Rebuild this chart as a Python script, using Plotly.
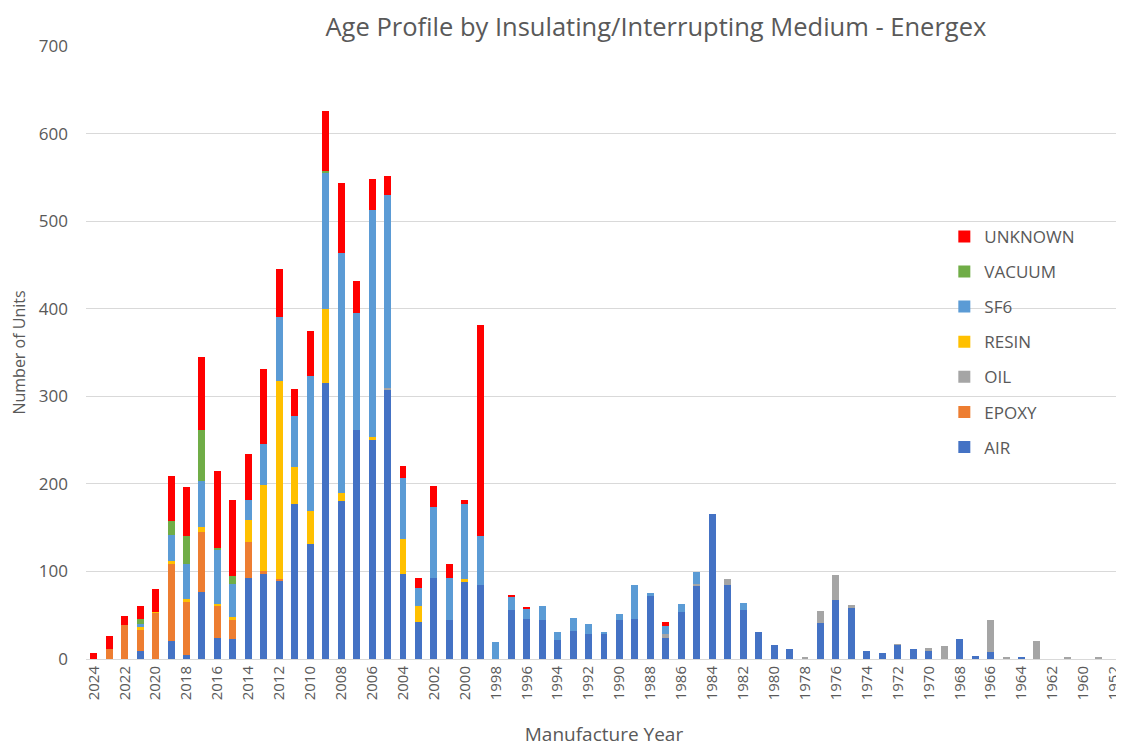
import plotly.graph_objects as go

years = [str(y) for y in range(2024, 1959, -1)] + ["1957", "1952"]

AIR = [0, 0, 0, 9, 0, 21, 5, 76, 24, 23, 92, 98, 90, 177, 131, 315, 180, 262, 251, 308,
       97, 42, 92, 45, 89, 85, 0, 56, 46, 44, 22, 32, 28, 29, 44, 46, 73, 24, 54, 84,
       166, 84, 56, 31, 16, 11, 0, 41, 67, 58, 9, 7, 16, 11, 9, 0, 23, 3, 8, 0,
       2, 0, 0, 0, 0, 0, 0]
EPOXY = [0, 11, 39, 25, 53, 87, 61, 69, 36, 22, 42, 2, 1, 0, 0, 0, 0, 0, 0, 0,
         0, 0, 0, 0, 0, 0, 0, 0, 0, 0, 0, 0, 0, 0, 0, 0, 0, 0, 0, 0,
         0, 0, 0, 0, 0, 0, 0, 0, 0, 0, 0, 0, 0, 0, 0, 0, 0, 0, 0, 0,
         0, 0, 0, 0, 0, 0, 0]
OIL = [0, 0, 0, 0, 0, 0, 0, 0, 0, 0, 0, 0, 0, 0, 0, 0, 0, 0, 0, 2,
       0, 0, 0, 0, 0, 0, 0, 0, 0, 0, 0, 0, 0, 0, 0, 0, 0, 4, 0, 2,
       0, 7, 0, 0, 0, 0, 2, 14, 29, 4, 0, 0, 1, 0, 4, 15, 0, 0, 36, 2,
       0, 21, 0, 2, 0, 2, 0]
RESIN = [0, 0, 0, 2, 1, 4, 2, 6, 3, 3, 25, 99, 227, 42, 38, 85, 9, 0, 2, 0,
         40, 18, 0, 0, 2, 0, 0, 0, 0, 0, 0, 0, 0, 0, 0, 0, 0, 0, 0, 0,
         0, 0, 0, 0, 0, 0, 0, 0, 0, 0, 0, 0, 0, 0, 0, 0, 0, 0, 0, 0,
         0, 0, 0, 0, 0, 0, 0]
SF6 = [0, 0, 0, 4, 0, 30, 40, 52, 62, 38, 23, 47, 72, 58, 154, 156, 275, 133, 260, 220,
       70, 21, 82, 48, 86, 55, 19, 15, 12, 16, 9, 15, 12, 1, 7, 38, 2, 10, 9, 13,
       0, 0, 8, 0, 0, 0, 0, 0, 0, 0, 0, 0, 0, 0, 0, 0, 0, 0, 0, 0,
       0, 0, 0, 0, 0, 0, 0]
VACUUM = [0, 0, 0, 6, 0, 16, 32, 59, 2, 9, 0, 0, 0, 0, 0, 1, 0, 0, 0, 0,
          0, 0, 0, 0, 0, 0, 0, 0, 0, 0, 0, 0, 0, 0, 0, 0, 0, 0, 0, 0,
          0, 0, 0, 0, 0, 0, 0, 0, 0, 0, 0, 0, 0, 0, 0, 0, 0, 0, 0, 0,
          0, 0, 0, 0, 0, 0, 0]
UNKNOWN = [7, 15, 10, 14, 26, 51, 56, 83, 88, 87, 52, 85, 55, 31, 51, 69, 80, 37, 35, 21,
           13, 11, 23, 16, 5, 241, 0, 2, 1, 0, 0, 0, 0, 0, 0, 0, 0, 4, 0, 0,
           0, 0, 0, 0, 0, 0, 0, 0, 0, 0, 0, 0, 0, 0, 0, 0, 0, 0, 0, 0,
           0, 0, 0, 0, 0, 0, 0]

series = [
    ("AIR", AIR, "#4472C4"),
    ("EPOXY", EPOXY, "#ED7D31"),
    ("OIL", OIL, "#A5A5A5"),
    ("RESIN", RESIN, "#FFC000"),
    ("SF6", SF6, "#5B9BD5"),
    ("VACUUM", VACUUM, "#70AD47"),
    ("UNKNOWN", UNKNOWN, "#FF0000"),
]

FONT = "Open Sans, Noto Sans, sans-serif"
GREY = "#595959"

fig = go.Figure()
n = len(series)
for i, (name, vals, col) in enumerate(series):
    fig.add_trace(go.Bar(x=years, y=vals, name=name, legendgroup=name,
                         legendrank=n - i,
                         marker=dict(color=col, line=dict(width=0))))

fig.update_layout(
    width=1116, height=739,
    barmode="stack", bargap=0.55,
    plot_bgcolor="white", paper_bgcolor="white",
    margin=dict(l=78, r=2, t=38, b=88, autoexpand=False),
    font=dict(family=FONT, color=GREY),
    title=dict(text="Age Profile by Insulating/Interrupting Medium - Energex",
               x=0.5806, xanchor="center", y=0.9745, yanchor="middle",
               font=dict(size=25.5, color=GREY, family=FONT)),
    legend=dict(x=0.8285, y=0.718, xanchor="left", yanchor="top",
                traceorder="grouped", tracegroupgap=10,
                font=dict(size=17, color=GREY, family=FONT),
                bgcolor="rgba(0,0,0,0)"),
    showlegend=True,
)
fig.update_xaxes(type="category", categoryorder="array", categoryarray=years,
                 tickmode="array", tickvals=years[::2], ticktext=years[::2],
                 tickangle=-90, tickfont=dict(size=15, color=GREY),
                 showline=True, linecolor="#D9D9D9", linewidth=1,
                 showgrid=False, ticks="",
                 title=dict(text="Manufacture Year", font=dict(size=19, color=GREY), standoff=28))
fig.update_yaxes(range=[0, 700], dtick=100, showgrid=True, gridcolor="#D9D9D9",
                 zeroline=False, showline=False, ticks="",
                 tickfont=dict(size=17, color=GREY), ticklabelstandoff=17,
                 title=dict(text="Number of Units", font=dict(size=16, color=GREY), standoff=12))

fig.write_html("out.html")
